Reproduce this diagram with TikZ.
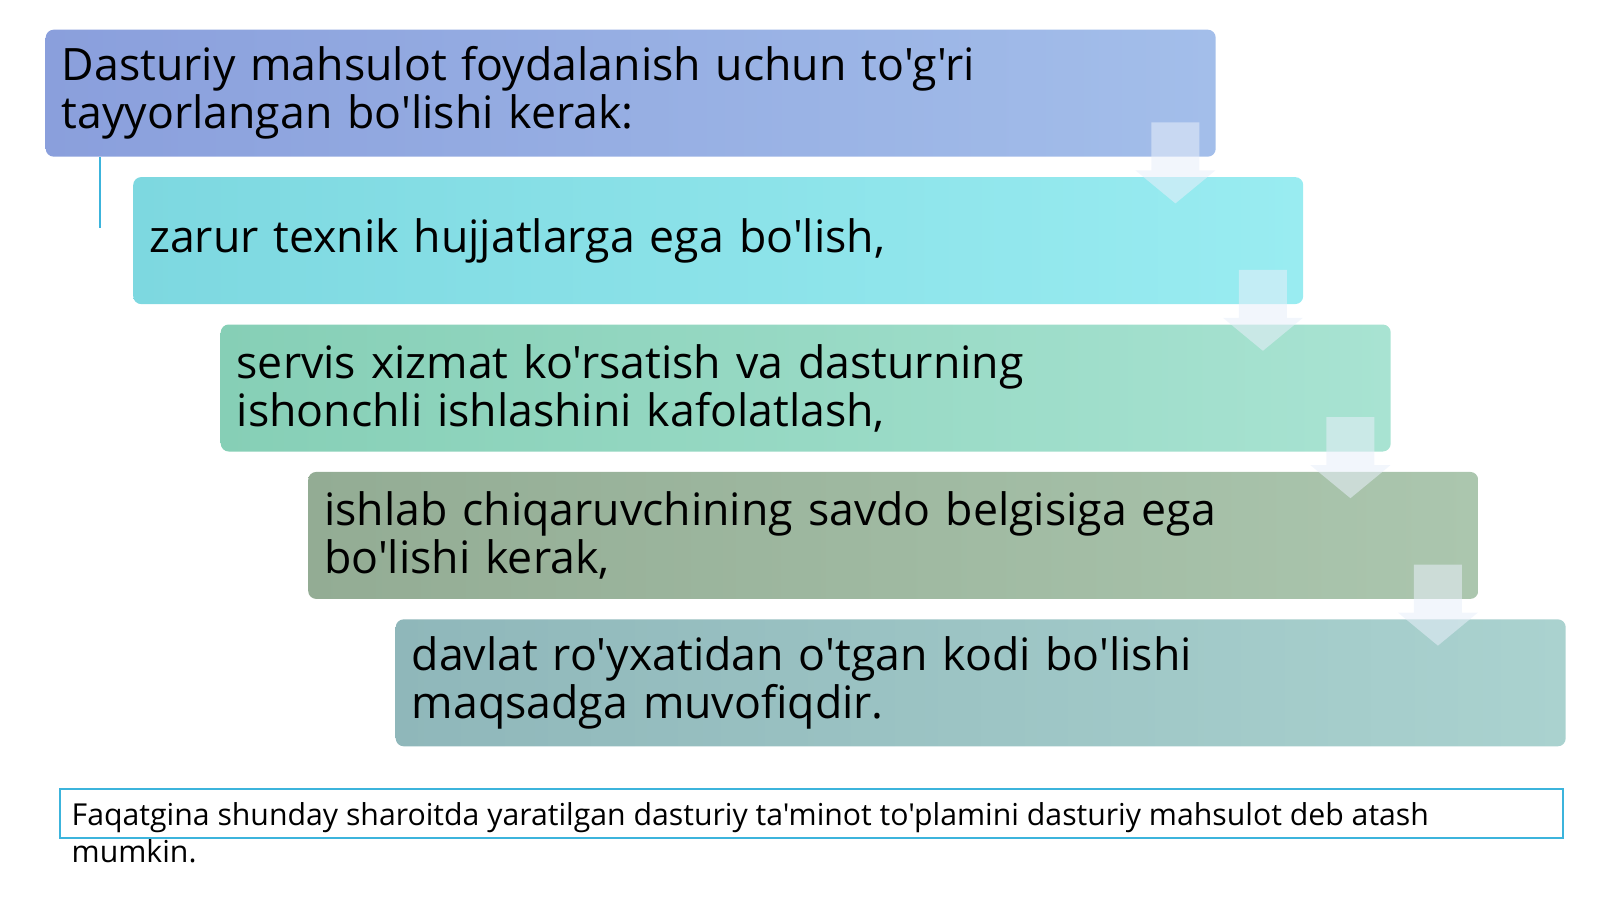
\documentclass[tikz,border=0pt]{standalone}
\usepackage{fontspec}
\setmainfont{Open Sans}[Ligatures=TeXOff]
\usepackage{tikz}
\usetikzlibrary{positioning,calc}
\definecolor{boxa}{HTML}{8A9FDC}
\definecolor{boxA}{HTML}{A3BEEA}
\definecolor{boxb}{HTML}{7DD8E0}
\definecolor{boxB}{HTML}{99ECF1}
\definecolor{boxc}{HTML}{86CFB6}
\definecolor{boxC}{HTML}{A8E3D2}
\definecolor{boxd}{HTML}{93AC94}
\definecolor{boxD}{HTML}{ABC6AE}
\definecolor{boxe}{HTML}{8FB7BA}
\definecolor{boxE}{HTML}{AAD2CF}
\definecolor{noteline}{HTML}{3CB4DC}
\tikzstyle{stepbox}=[anchor=north west,rounded corners=0.08cm,minimum width=11.7cm,minimum height=1.27cm,text width=11.38cm,inner xsep=0.16cm,inner ysep=0pt,align=left,font=\fontsize{12.7}{13.7}\selectfont]
\tikzstyle{downarrow}=[fill=white!75!boxA,fill opacity=0.55]

\begin{document}
\begin{tikzpicture}
\useasboundingbox (0,0) rectangle (16,-8.99);
\node [stepbox,left color=boxa,right color=boxA] (b1) at (0.45,-0.29) {Dasturiy mahsulot foydalanish uchun to'g'ri\\tayyorlangan bo'lishi kerak:};
\node [stepbox,left color=boxb,right color=boxB] (b2) at ($(b1.south west)+(0.875,-0.19)$) {zarur texnik hujjatlarga ega bo'lish,};
\node [stepbox,left color=boxc,right color=boxC] (b3) at ($(b2.south west)+(0.875,-0.19)$) {servis xizmat ko'rsatish va dasturning\\ishonchli ishlashini kafolatlash,};
\node [stepbox,left color=boxd,right color=boxD] (b4) at ($(b3.south west)+(0.875,-0.19)$) {ishlab chiqaruvchining savdo belgisiga ega\\bo'lishi kerak,};
\node [stepbox,left color=boxe,right color=boxE] (b5) at ($(b4.south west)+(0.875,-0.19)$) {davlat ro'yxatidan o'tgan kodi bo'lishi\\maqsadga muvofiqdir.};
% arrows between the boxes
\foreach \a/\b in {b1/b2,b2/b3,b3/b4,b4/b5}
  \path let \p1=(\a.south east), \p2=(\b.north) in
    [downarrow] (\x1-0.65cm,\y1+0.35cm) -- (\x1-0.17cm,\y1+0.35cm) -- (\x1-0.17cm,\y1-0.13cm)
    -- (\x1-0.01cm,\y1-0.13cm) -- (\x1-0.41cm,\y2-0.27cm) -- (\x1-0.81cm,\y1-0.13cm)
    -- (\x1-0.65cm,\y1-0.13cm) -- cycle;
\coordinate (tick) at ($(b1.south west)+(0.55,-0.71)$);
\draw [noteline,line width=0.6pt] (tick |- b1.south) -- (tick);
% note at the bottom
\node [draw=noteline,line width=0.7pt,anchor=north west,minimum width=15.03cm,minimum height=0.49cm,inner sep=0pt] (note) at (0.59,-7.88) {};
\node [anchor=north west,align=left,inner sep=0pt,font=\fontsize{8.6}{10.4}\selectfont] (notetext) at ($(note.north west)+(0.12,-0.14)$) {Faqatgina shunday sharoitda yaratilgan dasturiy ta'minot to'plamini dasturiy mahsulot deb atash\\mumkin.};
\end{tikzpicture}
\end{document}
